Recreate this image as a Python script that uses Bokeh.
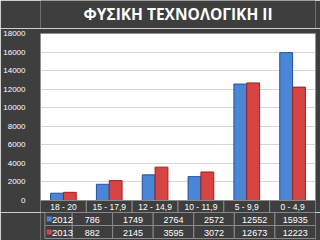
from bokeh.plotting import figure
from bokeh.models import Range1d, FixedTicker, ColumnDataSource, BoxAnnotation
from bokeh.layouts import column
from bokeh.embed import file_html
from bokeh.resources import INLINE
from bokeh.core.properties import value

title_text = "ΦΥΣΙΚΗ ΤΕΧΝΟΛΟΓΙΚΗ ΙΙ"
categories = ["18 - 20", "15 - 17,9", "12 - 14,9", "10 - 11,9", "5 - 9,9", "0 - 4,9"]
series_names = ["2012", "2013"]
values_2012 = [786, 1749, 2764, 2572, 12552, 15935]
values_2013 = [882, 2145, 3595, 3072, 12673, 12223]
y_ticks = [0, 2000, 4000, 6000, 8000, 10000, 12000, 14000, 16000, 18000]

BG = "#3e3e3e"
CELL_LINE = "#8a8a8a"
BLUE, BLUE_LINE = "#4a86d6", "#22509e"
RED, RED_LINE = "#d64444", "#9e2020"
FONT = "Liberation Sans"

n = len(categories)
xs = [i + 0.5 for i in range(n)]
bw = 0.28
col_w = 278 / n

# ---- title strip (page y 0..28) ----
tt_fig = figure(width=320, height=28, x_range=Range1d(0, 320), y_range=Range1d(28, 0),
                output_backend="svg", toolbar_location=None,
                min_border_left=0, min_border_right=0, min_border_top=0, min_border_bottom=0,
                background_fill_color=BG, border_fill_color=BG)
tt_fig.outline_line_color = None
tt_fig.axis.visible = False
tt_fig.grid.visible = False
tt_fig.text(x=[160], y=[13], text=[title_text], text_color="white",
            text_font=value("Open Sans"), text_font_size="15.5px", text_font_style="bold",
            text_align="center", text_baseline="middle")

# ---- chart: frame top at page 33px, zero line at 200px, frame bottom at 212px ----
ymax = y_ticks[-1]
px_per_unit = 167 / ymax
ymin = -12 / px_per_unit

src = ColumnDataSource(dict(
    x1=[x - bw / 2 for x in xs], x2=[x + bw / 2 for x in xs],
    v2012=values_2012, v2013=values_2013,
))

p = figure(width=320, height=184, x_range=Range1d(0, n), y_range=Range1d(ymin, ymax),
           output_backend="svg", toolbar_location=None,
           min_border_left=37, min_border_right=5, min_border_top=5, min_border_bottom=0,
           background_fill_color=BG, border_fill_color=BG)
p.outline_line_color = None
p.add_layout(BoxAnnotation(left=0, right=n, bottom=0, top=ymax, fill_color="white",
                           fill_alpha=1, line_color=None, level="image"))
p.xaxis.visible = False
p.xgrid.visible = False
p.ygrid.grid_line_color = "#d6d6d6"
p.yaxis.ticker = FixedTicker(ticks=y_ticks)
p.yaxis.axis_line_color = None
p.yaxis.major_tick_line_color = None
p.yaxis.minor_tick_line_color = None
p.yaxis.major_label_text_color = "white"
p.yaxis.major_label_text_font = FONT
p.yaxis.major_label_text_font_size = "8px"
p.yaxis.major_label_standoff = 9

p.vbar(x="x1", top="v2012", width=bw, source=src, fill_color=BLUE, line_color=BLUE_LINE)
p.vbar(x="x2", top="v2013", width=bw, source=src, fill_color=RED, line_color=RED_LINE)

# header row of the data table (category labels), just under the zero line
p.quad(left=list(range(n)), right=[i + 1 for i in range(n)], top=[0] * n, bottom=[ymin] * n,
       fill_color=BG, line_color=CELL_LINE, line_width=1)
p.text(x=xs, y=[ymin / 2] * n, text=categories, text_color="white", text_font=value(FONT),
       text_font_size="8.5px", text_align="center", text_baseline="middle")

# ---- data rows of the table (page y 212..240) ----
t = figure(width=320, height=28, x_range=Range1d(-36 / col_w, n), y_range=Range1d(28, 0),
           output_backend="svg", toolbar_location=None,
           min_border_left=0, min_border_right=5, min_border_top=0, min_border_bottom=0,
           background_fill_color=BG, border_fill_color=BG)
t.outline_line_color = None
t.axis.visible = False
t.grid.visible = False

rows = [(0, 13), (13, 26)]
cell_l, cell_r, cell_t, cell_b = [], [], [], []
for (top, bot) in rows:
    for i in range(n):
        cell_l.append(i); cell_r.append(i + 1); cell_t.append(top); cell_b.append(bot)
    cell_l.append(-31 / col_w); cell_r.append(0); cell_t.append(top); cell_b.append(bot)
t.quad(left=cell_l, right=cell_r, top=cell_t, bottom=cell_b, fill_color=BG,
       line_color=CELL_LINE, line_width=1)

tx, ty, tt = [], [], []
for r, vals in enumerate([values_2012, values_2013]):
    top, bot = rows[r]
    for i, v in enumerate(vals):
        tx.append(xs[i]); ty.append((top + bot) / 2 + 0.5); tt.append(str(v))
t.text(x=tx, y=ty, text=tt, text_color="white", text_font=value(FONT), text_font_size="9px",
       text_align="center", text_baseline="middle")

ly = [(top + bot) / 2 for (top, bot) in rows]
t.scatter(x=[-26 / col_w] * 2, y=ly, marker="square", size=5,
          fill_color=[BLUE, RED], line_color=None)
t.text(x=[-23 / col_w] * 2, y=[v + 0.5 for v in ly], text=series_names, text_color="white",
       text_font=value(FONT), text_font_size="9.5px", text_align="left", text_baseline="middle")

layout = column(tt_fig, p, t, spacing=0)
open("out.html", "w").write(file_html(layout, INLINE))
